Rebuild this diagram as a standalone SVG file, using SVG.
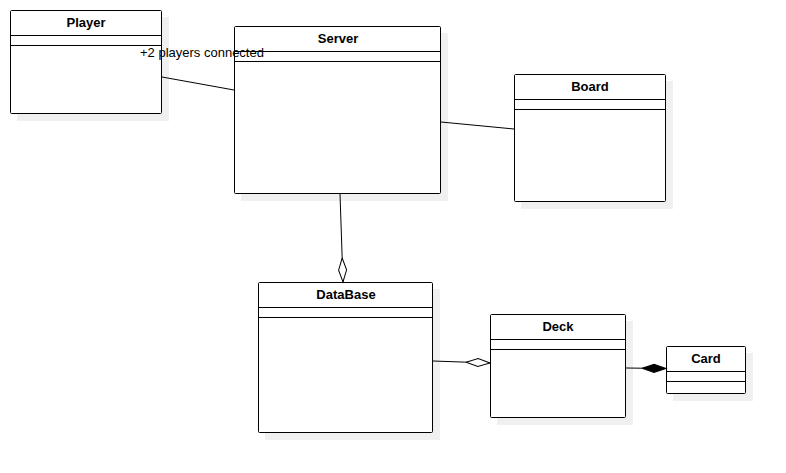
<svg xmlns="http://www.w3.org/2000/svg" width="786" height="473" viewBox="0 0 786 473">
<style>
.sh{fill:#f0f0f0;stroke:none}
.box{fill:#fff;stroke:#000;stroke-width:1}
.ln{stroke:#000;stroke-width:1;fill:none}
.t{font-family:"Liberation Sans",Arial,sans-serif;font-size:13px;font-weight:bold;text-anchor:middle;fill:#000}
.lbl{font-family:"Liberation Sans",Arial,sans-serif;font-size:13px;fill:#000}
</style>
<defs>
<marker id="odia" markerWidth="26" markerHeight="12" refX="24" refY="6" orient="auto" markerUnits="userSpaceOnUse">
<path d="M0,6 L12,2 L24,6 L12,10 Z" fill="#fff" stroke="#000" stroke-width="1"/>
</marker>
<marker id="fdia" markerWidth="26" markerHeight="12" refX="24" refY="6" orient="auto" markerUnits="userSpaceOnUse">
<path d="M0,6 L12,2 L24,6 L12,10 Z" fill="#000" stroke="#000" stroke-width="1"/>
</marker>
</defs>
<rect width="786" height="473" fill="#fff"/>
<g id="Player">
<rect class="sh" x="17" y="17" width="152" height="104"/>
<rect class="box" x="10.5" y="10.5" width="151" height="103" rx="1"/>
<line class="ln" x1="10.5" y1="35.5" x2="161.5" y2="35.5"/>
<line class="ln" x1="10.5" y1="45.5" x2="161.5" y2="45.5"/>
<text class="t" x="86" y="27">Player</text>
</g>
<g id="Server">
<rect class="sh" x="241" y="33" width="207" height="168"/>
<rect class="box" x="234.5" y="26.5" width="206" height="167" rx="1"/>
<line class="ln" x1="234.5" y1="51.5" x2="440.5" y2="51.5"/>
<line class="ln" x1="234.5" y1="61.5" x2="440.5" y2="61.5"/>
<text class="t" x="338" y="43">Server</text>
</g>
<g id="Board">
<rect class="sh" x="521" y="81" width="152" height="128"/>
<rect class="box" x="514.5" y="74.5" width="151" height="127" rx="1"/>
<line class="ln" x1="514.5" y1="99.5" x2="665.5" y2="99.5"/>
<line class="ln" x1="514.5" y1="109.5" x2="665.5" y2="109.5"/>
<text class="t" x="590" y="91">Board</text>
</g>
<g id="DataBase">
<rect class="sh" x="265" y="289" width="175" height="151"/>
<rect class="box" x="258.5" y="282.5" width="174" height="150" rx="1"/>
<line class="ln" x1="258.5" y1="307.5" x2="432.5" y2="307.5"/>
<line class="ln" x1="258.5" y1="317.5" x2="432.5" y2="317.5"/>
<text class="t" x="346" y="299">DataBase</text>
</g>
<g id="Deck">
<rect class="sh" x="497" y="321" width="136" height="104"/>
<rect class="box" x="490.5" y="314.5" width="135" height="103" rx="1"/>
<line class="ln" x1="490.5" y1="339.5" x2="625.5" y2="339.5"/>
<line class="ln" x1="490.5" y1="349.5" x2="625.5" y2="349.5"/>
<text class="t" x="558" y="331">Deck</text>
</g>
<g id="Card">
<rect class="sh" x="673" y="353" width="80" height="48"/>
<rect class="box" x="666.5" y="346.5" width="79" height="47" rx="1"/>
<line class="ln" x1="666.5" y1="371.5" x2="745.5" y2="371.5"/>
<line class="ln" x1="666.5" y1="381.5" x2="745.5" y2="381.5"/>
<text class="t" x="706" y="363">Card</text>
</g>
<g id="connectors">
<line class="ln" x1="162" y1="77" x2="234" y2="90"/>
<line class="ln" x1="441" y1="122" x2="514" y2="129"/>
<line class="ln" x1="340" y1="194" x2="343" y2="282" marker-end="url(#odia)"/>
<line class="ln" x1="433" y1="361" x2="490" y2="363" marker-end="url(#odia)"/>
<line class="ln" x1="626" y1="368" x2="666" y2="368.5" marker-end="url(#fdia)"/>
<text class="lbl" x="140" y="57">+2 players connected</text>
</g>
</svg>
